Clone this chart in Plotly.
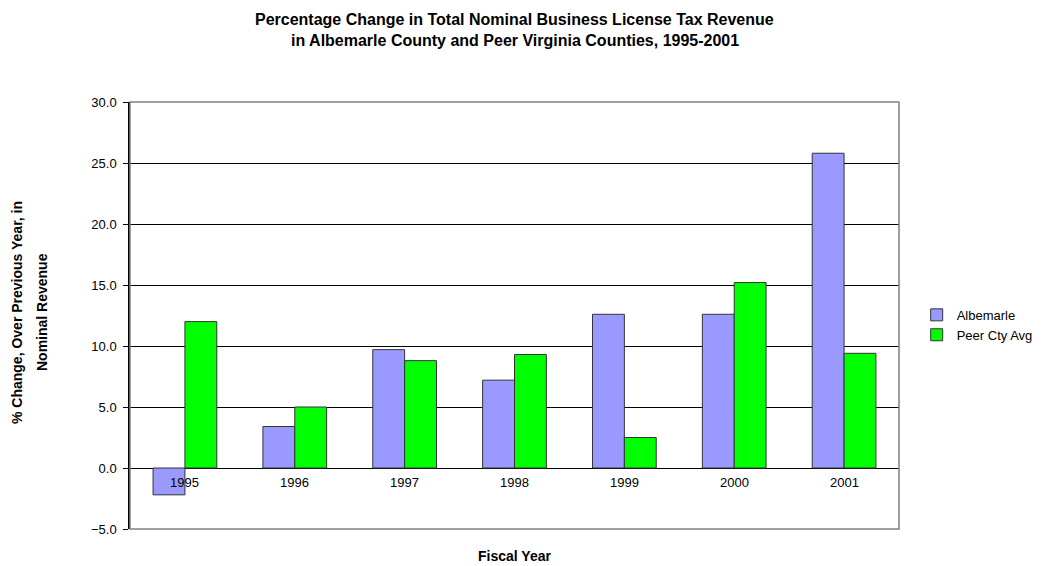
import plotly.graph_objects as go

years = ["1995", "1996", "1997", "1998", "1999", "2000", "2001"]
albemarle = [-2.2, 3.4, 9.7, 7.2, 12.6, 12.6, 25.8]
peer_avg = [12.0, 5.0, 8.8, 9.3, 2.5, 15.2, 9.4]
y_ticks = [-5, 0, 5, 10, 15, 20, 25, 30]

FONT = "Liberation Sans, Arial, sans-serif"

fig = go.Figure()
fig.add_trace(go.Bar(
    x=years, y=albemarle, name="Albemarle",
    marker=dict(color="#9999FF", line=dict(color="#333333", width=1)),
))
fig.add_trace(go.Bar(
    x=years, y=peer_avg, name="Peer Cty Avg",
    marker=dict(color="#00FF00", line=dict(color="#333333", width=1)),
))

# Category labels sit just under the zero line (positioned by category index)
for i, yr in enumerate(years):
    fig.add_annotation(
        x=i, y=0, xref="x", yref="y", text=yr, showarrow=False,
        yanchor="top", yshift=-5, font=dict(family=FONT, size=13, color="#000000"),
    )

# Gray frame around the plot area
fig.add_shape(type="rect", xref="paper", yref="paper", x0=0, y0=0, x1=1, y1=1,
              line=dict(color="#808080", width=1.5), layer="above")

# Two-line chart title
title_lines = [
    "Percentage Change in Total Nominal Business License Tax Revenue",
    "in Albemarle County and Peer Virginia Counties, 1995-2001",
]
for shift, line in zip([83, 62], title_lines):
    fig.add_annotation(
        x=0.5, y=1, xref="paper", yref="paper", xanchor="center", yanchor="middle",
        yshift=shift, showarrow=False, text=f"<b>{line}</b>",
        font=dict(family=FONT, size=16, color="#000000"),
    )

# Two-line y-axis title
ytitle_lines = ["% Change, Over Previous Year, in", "Nominal Revenue"]
for xpos, line in zip([-0.147, -0.1145], ytitle_lines):
    fig.add_annotation(
        x=xpos, y=0.508, xref="paper", yref="paper", xanchor="center", yanchor="middle",
        showarrow=False, textangle=-90, text=f"<b>{line}</b>",
        font=dict(family=FONT, size=14, color="#000000"),
    )

fig.add_annotation(
    x=0.5, y=0, xref="paper", yref="paper", xanchor="center", yanchor="middle",
    yshift=-27, showarrow=False, text="<b>Fiscal Year</b>",
    font=dict(family=FONT, size=14, color="#000000"),
)

fig.update_layout(
    width=1047, height=566,
    margin=dict(l=130, r=148, t=102, b=37, autoexpand=False),
    paper_bgcolor="#FFFFFF", plot_bgcolor="#FFFFFF",
    barmode="group", bargap=0.42, bargroupgap=0,
    showlegend=True,
    legend=dict(x=1.023, y=0.478, xanchor="left", yanchor="middle",
                font=dict(family=FONT, size=13, color="#000000"),
                bgcolor="rgba(0,0,0,0)", tracegroupgap=2, itemwidth=30),
    font=dict(family=FONT, size=13, color="#000000"),
    xaxis=dict(type="category", range=[-0.5, len(years) - 0.5],
               showticklabels=False, showgrid=False,
               showline=False, zeroline=False, ticks=""),
    yaxis=dict(range=[-5, 30], tickvals=y_ticks, tickformat=".1f",
               showgrid=True, gridcolor="#000000", gridwidth=1,
               zeroline=True, zerolinecolor="#000000", zerolinewidth=1,
               showline=True, linecolor="#000000", linewidth=1.5,
               ticks="outside", ticklen=5, tickcolor="#000000",
               ticklabelstandoff=4,
               tickfont=dict(family=FONT, size=13, color="#000000")),
)

fig.write_html("out.html")
